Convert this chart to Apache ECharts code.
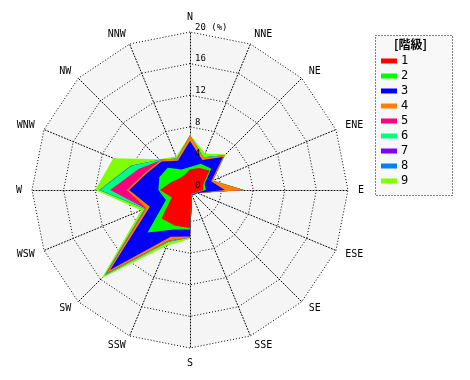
<!DOCTYPE html>
<html><head><meta charset="utf-8">
<script src="https://cdn.jsdelivr.net/npm/echarts@6/dist/echarts.min.js"></script>
<style>html,body{margin:0;padding:0;background:#fff}#c{width:470px;height:380px}</style>
</head><body><div id="c"></div>
<script>
// Wind directions (clockwise from north)
const directions = ['N','NNE','NE','ENE','E','ESE','SE','SSE','S','SSW','SW','WSW','W','WNW','NW','NNW'];
// Frequency (%) per class, per direction (same order as directions)
const class1 = [2.6, 3.0, 3.5, 1.8, 1.7, 0.8, 0.6, 0.5, 4.8, 4.9, 5.1, 2.5, 3.8, 2.6, 2.0, 2.0];
const class2 = [0.3, 0.6, 0.3, 0.2, 0.3, 0.1, 0.1, 0.1, 0.2, 0.5, 2.5, 0.8, 0.2, 1.6, 2.0, 0.8];
const class3 = [3.3, 0.5, 2.1, 0.9, 2.4, 0.1, 0.1, 0.1, 0.9, 1.0, 6.7, 2.2, 3.7, 1.6, 1.1, 1.2];
const class4 = [0.7, 0.3, 0.2, 0.2, 2.4, 0.0, 0.0, 0.0, 0.1, 0.5, 0.5, 0.5, 0.3, 0.2, 0.2, 0.2];
const class5 = [0.0, 0.0, 0.0, 0.0, 0.0, 0.0, 0.0, 0.0, 0.0, 0.1, 0.2, 0.1, 2.1, 1.0, 0.0, 0.0];
const class6 = [0.0, 0.1, 0.1, 0.0, 0.0, 0.0, 0.0, 0.0, 0.0, 0.1, 0.2, 0.1, 1.3, 1.0, 0.1, 0.1];
const class7 = [0.0, 0.0, 0.0, 0.0, 0.0, 0.0, 0.0, 0.0, 0.0, 0.0, 0.0, 0.0, 0.0, 0.0, 0.0, 0.0];
const class8 = [0.0, 0.0, 0.0, 0.0, 0.0, 0.0, 0.0, 0.0, 0.0, 0.0, 0.1, 0.0, 0.1, 0.1, 0.0, 0.0];
const class9 = [0.1, 0.5, 0.2, 0.1, 0.1, 0.1, 0.1, 0.1, 0.2, 0.5, 0.5, 0.5, 0.5, 2.4, 0.1, 0.3];
const classNames = ['1','2','3','4','5','6','7','8','9'];
const classColors = ['#ff0000','#00ff00','#0000ff','#ff8000','#ff0080','#00ff80','#8000ff','#0080ff','#80ff00'];
const radialTicks = [0, 4, 8, 12, 16, 20];
const legendTitle = '[階級]';

const classes = [class1, class2, class3, class4, class5, class6, class7, class8, class9];
// cumulative (stacked) values
const cum = [];
let run = directions.map(() => 0);
classes.forEach(c => { run = run.map((v, i) => +(v + c[i]).toFixed(2)); cum.push(run.slice()); });

// radar places indicators counter-clockwise; reorder so directions run clockwise
const order = [0].concat(directions.map((d, i) => i).slice(1).reverse());
const indicator = order.map(i => ({ name: directions[i], max: 20, min: 0 }));

const mono = 'DejaVu Sans Mono';
const data = [];
for (let k = classes.length - 1; k >= 0; k--) {
  data.push({
    name: classNames[k],
    value: order.map(i => cum[k][i]),
    itemStyle: { color: classColors[k] },
    areaStyle: { color: classColors[k], opacity: 1 },
    lineStyle: { width: 0, color: classColors[k] },
    symbol: 'none'
  });
}

const chart = echarts.init(document.getElementById('c'), null, { renderer: 'canvas' });
chart.setOption({
  animation: false,
  backgroundColor: '#ffffff',
  radar: {
    center: [190, 190],
    radius: 158,
    startAngle: 90,
    shape: 'polygon',
    splitNumber: 5,
    indicator: indicator,
    nameGap: 10,
    axisName: { color: '#000', fontFamily: mono, fontSize: 10 },
    splitArea: { show: true, areaStyle: { color: ['#f5f5f5'] } },
    splitLine: { lineStyle: { color: '#000', type: [1, 2], width: 1 } },
    axisLine: { lineStyle: { color: '#000', type: [1, 2], width: 1 } },
    z: 1
  },
  polar: { center: [190, 190], radius: 158 },
  angleAxis: { type: 'value', startAngle: 90, min: 0, max: 360, show: false },
  radiusAxis: {
    type: 'value', min: radialTicks[0], max: radialTicks[radialTicks.length - 1], interval: 4,
    axisLine: { show: false }, axisTick: { show: false }, splitLine: { show: false },
    axisLabel: {
      show: true, fontFamily: mono, fontSize: 9, color: '#000', margin: -5,
      align: 'left', verticalAlign: 'bottom',
      formatter: v => v === 20 ? '20 (%)' : String(v)
    },
    z: 5
  },
  legend: {
    orient: 'vertical',
    left: 381, top: 55, padding: 0,
    data: classNames,
    icon: 'rect', itemWidth: 16, itemHeight: 5, itemGap: 3,
    textStyle: { fontFamily: mono, fontSize: 12, color: '#000', padding: [0, 0, 0, -1] },
    selectedMode: false
  },
  graphic: [
    { type: 'rect', left: 375, top: 35, shape: { width: 77, height: 160 },
      style: { fill: '#f8f8f8', stroke: '#000', lineWidth: 1, lineDash: [1, 2] }, z: -1 },
    { type: 'text', left: 394, top: 38,
      style: { text: legendTitle, font: 'bold 12px "Noto Sans CJK JP"', fill: '#000' } }
  ],
  series: [{ type: 'radar', data: data, z: 2 }]
});
</script></body></html>
